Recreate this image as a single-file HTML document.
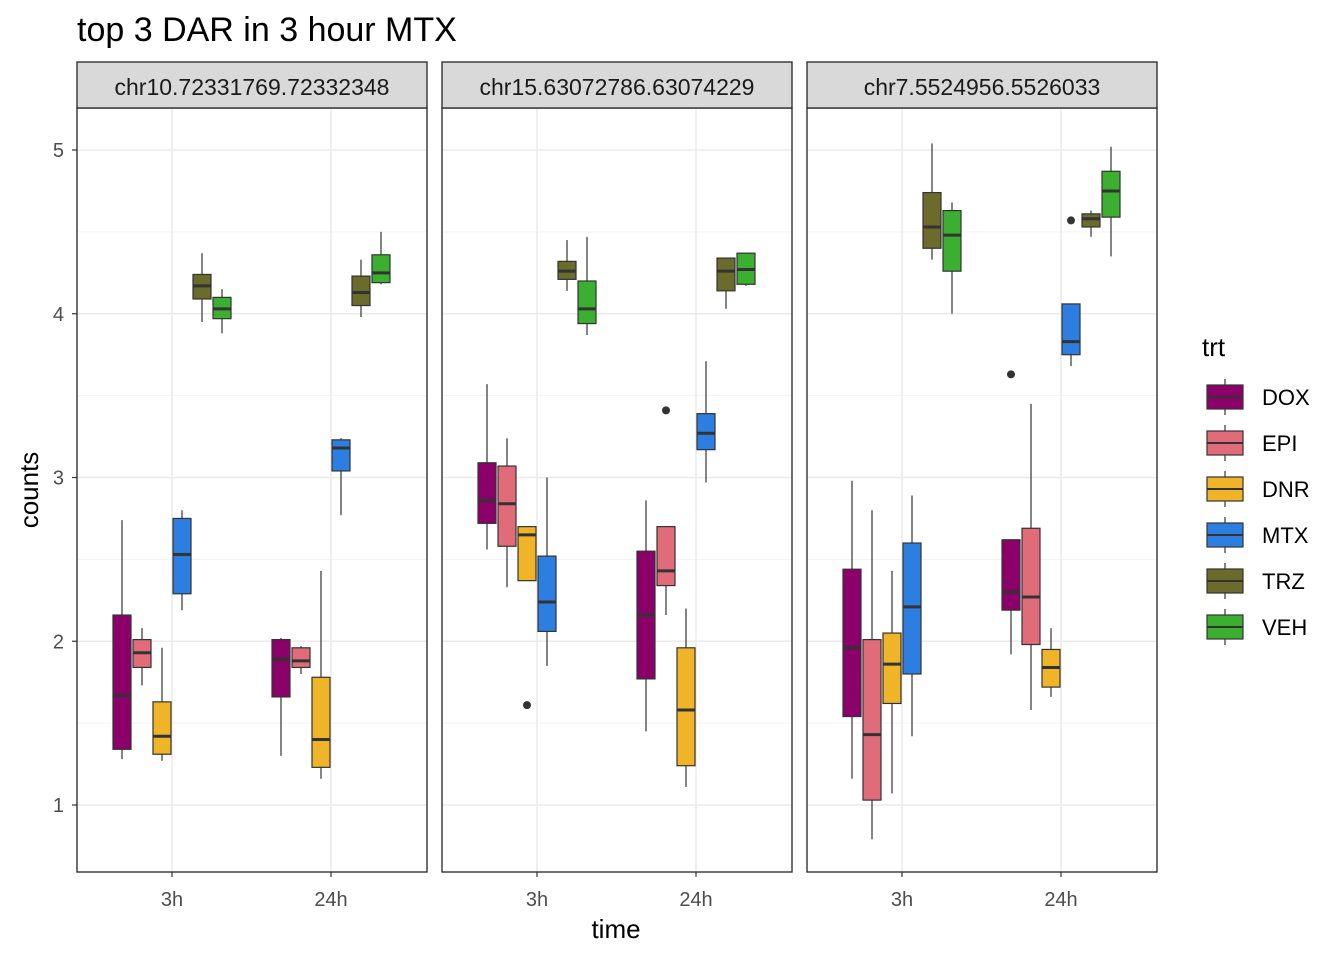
<!DOCTYPE html>
<html><head><meta charset="utf-8"><style>
body{margin:0;background:#fff}svg{display:block;font-family:"Liberation Sans",Arial,sans-serif}
</style></head><body>
<svg id="chart" width="1344" height="960" viewBox="0 0 1344 960" xmlns="http://www.w3.org/2000/svg">
<text x="77" y="41" font-size="34" fill="#000">top 3 DAR in 3 hour MTX</text>
<text x="616" y="938" font-size="26" text-anchor="middle" fill="#000">time</text>
<text transform="translate(38,490) rotate(-90)" font-size="26" text-anchor="middle" fill="#000">counts</text>
<g id="plots"></g>
<g id="legend"></g>
</svg>
<script>
const panels=["chr10.72331769.72332348","chr15.63072786.63074229","chr7.5524956.5526033"];
const times=["3h","24h"];
const treatments=["DOX","EPI","DNR","MTX","TRZ","VEH"];
const colors=["#8B0069","#E06C7A","#F0B429","#2C7FE0","#6B6B2C","#3BB030"];
const yTicks=[1,2,3,4,5];
// [min,q1,med,q3,max] per panel -> time -> treatment
const p1_3h=[[1.28,1.34,1.67,2.16,2.74],[1.73,1.84,1.93,2.01,2.08],[1.27,1.31,1.42,1.63,1.96],[2.19,2.29,2.53,2.75,2.80],[3.95,4.09,4.17,4.24,4.37],[3.88,3.97,4.03,4.10,4.15]];
const p1_24h=[[1.30,1.66,1.89,2.01,2.02],[1.80,1.84,1.88,1.96,1.97],[1.16,1.23,1.40,1.78,2.43],[2.77,3.04,3.18,3.23,3.24],[3.98,4.05,4.13,4.23,4.33],[4.18,4.19,4.25,4.36,4.50]];
const p2_3h=[[2.56,2.72,2.86,3.09,3.57],[2.33,2.58,2.84,3.07,3.24],[2.37,2.37,2.65,2.70,2.70],[1.85,2.06,2.24,2.52,3.00],[4.14,4.21,4.26,4.32,4.45],[3.87,3.94,4.03,4.20,4.47]];
const p2_24h=[[1.45,1.77,2.16,2.55,2.86],[2.16,2.34,2.43,2.70,2.70],[1.11,1.24,1.58,1.96,2.20],[2.97,3.17,3.27,3.39,3.71],[4.03,4.14,4.26,4.34,4.34],[4.17,4.18,4.27,4.37,4.37]];
const p3_3h=[[1.16,1.54,1.96,2.44,2.98],[0.79,1.03,1.43,2.01,2.80],[1.07,1.62,1.86,2.05,2.43],[1.42,1.80,2.21,2.60,2.89],[4.33,4.40,4.53,4.74,5.04],[4.00,4.26,4.48,4.63,4.68]];
const p3_24h=[[1.92,2.19,2.30,2.62,2.62],[1.58,1.98,2.27,2.69,3.45],[1.66,1.72,1.84,1.95,2.08],[3.68,3.75,3.83,4.06,4.06],[4.47,4.53,4.58,4.61,4.63],[4.35,4.59,4.75,4.87,5.02]];
// outliers: [panel, time, treatment, value]
const outliers=[[1,0,2,1.61],[1,1,1,3.41],[2,1,0,3.63],[2,1,3,4.57]];
const boxData=[[p1_3h,p1_24h],[p2_3h,p2_24h],[p3_3h,p3_24h]];

const NS="http://www.w3.org/2000/svg";
function mk(t,a,p){const e=document.createElementNS(NS,t);for(const k in a)e.setAttribute(k,a[k]);p.appendChild(e);return e;}
const plotTop=108,plotBot=872,panelX=[77,442,807],panelW=350;
function y(v){return 150+(5-v)*163.75;}
function xc(p,t){return panelX[p]+95+t*159;}
function xb(p,t,k){return xc(p,t)+(k-2.5)*20;}
const plots=document.getElementById('plots');
panels.forEach((name,p)=>{
  const g=mk('g',{},plots);
  
  
  const x0=panelX[p];
  mk('rect',{x:x0,y:plotTop,width:panelW,height:plotBot-plotTop,fill:'#fff'},g);
  for(let v=0.5;v<=5.5;v+=1){const yy=y(v);if(yy>plotTop&&yy<plotBot)mk('line',{x1:x0,x2:x0+panelW,y1:yy,y2:yy,stroke:'#f3f3f3','stroke-width':1},g);}
  yTicks.forEach(v=>mk('line',{x1:x0,x2:x0+panelW,y1:y(v),y2:y(v),stroke:'#ebebeb','stroke-width':1.6},g));
  times.forEach((t,ti)=>mk('line',{x1:xc(p,ti),x2:xc(p,ti),y1:plotTop,y2:plotBot,stroke:'#ebebeb','stroke-width':1.6},g));
  times.forEach((t,ti)=>{
    boxData[p][ti].forEach((s,k)=>{
      const bx=xb(p,ti,k),bg=mk('g',{},g);
      
      
      mk('line',{x1:bx,x2:bx,y1:y(s[0]),y2:y(s[4]),stroke:'#333','stroke-width':1.2},bg);
      mk('rect',{x:bx-9,y:y(s[3]),width:18,height:Math.max(0.5,y(s[1])-y(s[3])),fill:colors[k],stroke:'#333','stroke-width':1.2},bg);
      mk('line',{x1:bx-9,x2:bx+9,y1:y(s[2]),y2:y(s[2]),stroke:'#333','stroke-width':3},bg);
    });
    const tl=mk('text',{x:xc(p,ti),y:906,'font-size':20,'text-anchor':'middle',fill:'#4d4d4d'},g);
    tl.textContent=t;
    
    
    mk('line',{x1:xc(p,ti),x2:xc(p,ti),y1:plotBot,y2:plotBot+5,stroke:'#333','stroke-width':1.2},g);
  });
  outliers.filter(o=>o[0]===p).forEach(o=>{
    const c=mk('circle',{cx:xb(p,o[1],o[2]),cy:y(o[3]),r:4,fill:'#333'},g);
    
    
  });
  mk('rect',{x:x0,y:plotTop,width:panelW,height:plotBot-plotTop,fill:'none',stroke:'#333','stroke-width':1.4},g);
  const st=mk('rect',{x:x0,y:62,width:panelW,height:46,fill:'#d9d9d9',stroke:'#333','stroke-width':1.4},g);
  
  
  const sl=mk('text',{x:x0+panelW/2,y:95,'font-size':23,'text-anchor':'middle',fill:'#1a1a1a'},g);
  sl.textContent=name;
  
  
});
yTicks.forEach(v=>{
  const t=mk('text',{x:64,y:y(v)+7,'font-size':20,'text-anchor':'end',fill:'#4d4d4d'},plots);
  t.textContent=v;
  
  
  mk('line',{x1:72,x2:77,y1:y(v),y2:y(v),stroke:'#333','stroke-width':1.2},plots);
});
const lg=document.getElementById('legend');


const lt=mk('text',{x:1202,y:356,'font-size':26,fill:'#000'},lg);
lt.textContent='trt';
treatments.forEach((tr,k)=>{
  const cy=397+k*46;
  const e=mk('g',{},lg);
  
  
  mk('line',{x1:1225,x2:1225,y1:cy-18,y2:cy+18,stroke:'#333','stroke-width':1.2},e);
  mk('rect',{x:1207,y:cy-12,width:36,height:24,fill:colors[k],stroke:'#333','stroke-width':1.2},e);
  mk('line',{x1:1207,x2:1243,y1:cy,y2:cy,stroke:'#333','stroke-width':2},e);
  const t=mk('text',{x:1262,y:cy+8,'font-size':22,fill:'#000'},e);
  t.textContent=tr;
});
</script>
</body></html>
